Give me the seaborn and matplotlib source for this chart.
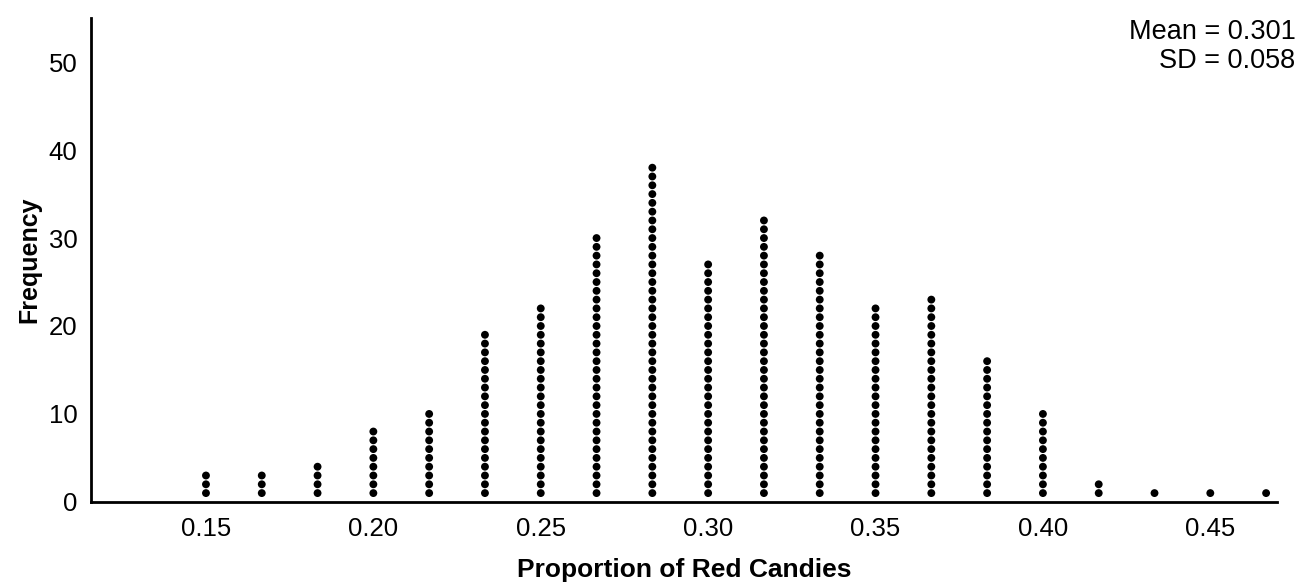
import numpy as np
import pandas as pd
import seaborn as sns
import matplotlib.pyplot as plt

# sample proportions (k/60) and how many samples landed on each
proportions = [9/60, 10/60, 11/60, 12/60, 13/60, 14/60, 15/60, 16/60, 17/60, 18/60,
               19/60, 20/60, 21/60, 22/60, 23/60, 24/60, 25/60, 26/60, 27/60, 28/60]
counts = [3, 3, 4, 8, 10, 19, 22, 30, 38, 27, 32, 28, 22, 23, 16, 10, 2, 1, 1, 1]
x_ticks = [0.15, 0.20, 0.25, 0.30, 0.35, 0.40, 0.45]
y_ticks = [0, 10, 20, 30, 40, 50]
stats_text = "Mean = 0.301\nSD = 0.058"

# one row per dot, stacked upward
rows = []
for p, c in zip(proportions, counts):
    for k in range(1, c + 1):
        rows.append({"proportion": p, "level": k})
dots = pd.DataFrame(rows)

sns.set_style("white")
plt.rcParams['font.family'] = ['Liberation Sans', 'DejaVu Sans']
plt.rcParams['text.color'] = 'black'
plt.rcParams['axes.labelcolor'] = 'black'
plt.rcParams['xtick.color'] = 'black'
plt.rcParams['ytick.color'] = 'black'

fig = plt.figure(figsize=(13.02, 5.87), dpi=100)
ax = fig.add_axes([0.070, 0.145, 0.911, 0.824])

sns.scatterplot(data=dots, x="proportion", y="level", color="black",
                s=32, edgecolor="none", ax=ax)

ax.set_xlim(0.1157, 0.470)
ax.set_ylim(0, 55)
ax.set_xticks(x_ticks)
ax.set_xticklabels([f"{t:.2f}" for t in x_ticks])
ax.set_yticks(y_ticks)
ax.tick_params(axis='both', length=0, labelsize=18.5)
ax.tick_params(axis='x', pad=11)
ax.tick_params(axis='y', pad=10)

sns.despine(ax=ax)
for side in ['left', 'bottom']:
    ax.spines[side].set_linewidth(2)
    ax.spines[side].set_color('black')

ax.set_xlabel("Proportion of Red Candies", fontsize=19, fontweight='bold', labelpad=12)
ax.set_ylabel("Frequency", fontsize=18, fontweight='bold', labelpad=5)

fig.text(0.995, 0.968, stats_text, ha='right', va='top', fontsize=19.5, linespacing=1.15)

plt.savefig("out.png", dpi=100)
